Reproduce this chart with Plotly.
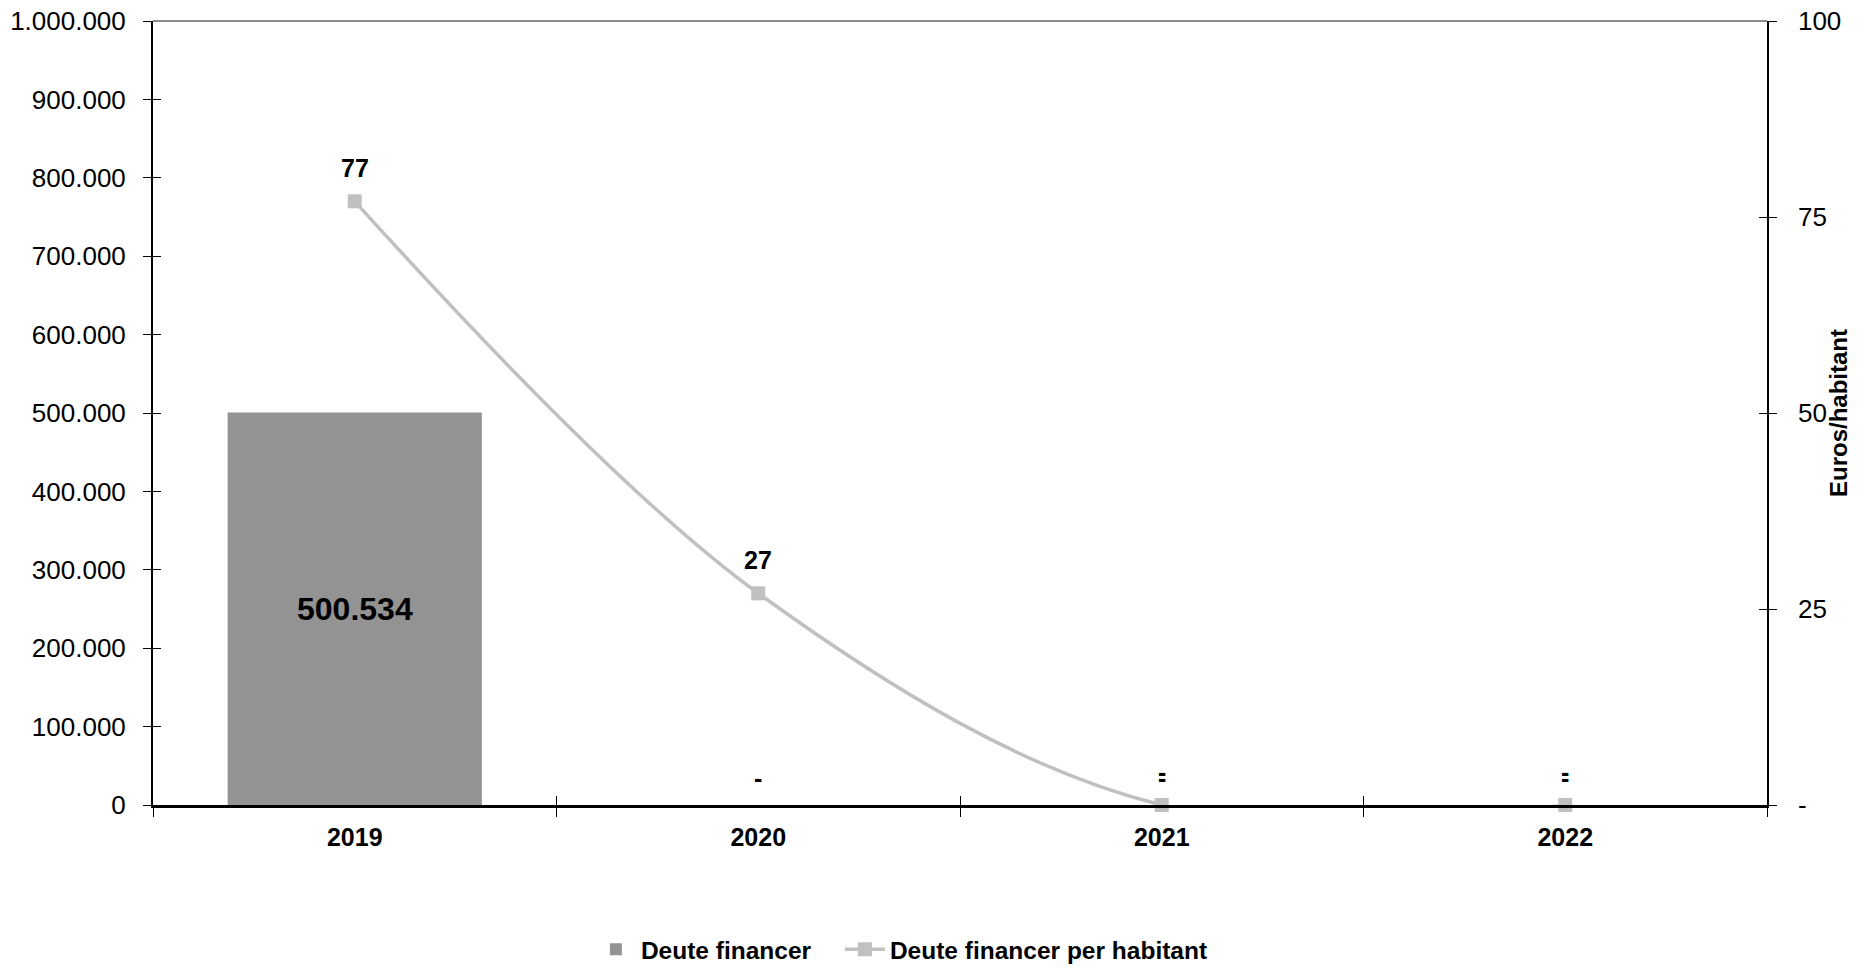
import plotly.graph_objects as go

years = ["2019", "2020", "2021", "2022"]
deute_financer = [500534, 0, 0, 0]
deute_per_habitant = [77, 27, 0, 0]
right_tick_vals = [0, 25, 50, 75, 100]
right_tick_text = ["-", "25", "50", "75", "100"]
category_boundaries = [-0.5, 0.5, 1.5, 2.5, 3.5]

FONT = "Liberation Sans, Arial, sans-serif"
BAR_COLOR = "#939393"
LINE_COLOR = "#c0c0c0"


def fmt_eu(v):
    return f"{v:,}".replace(",", ".")


fig = go.Figure()
fig.add_trace(go.Bar(
    x=years, y=deute_financer, name="Deute financer",
    marker=dict(color=BAR_COLOR, line=dict(width=0)), width=0.63,
    legendwidth=194,
))
fig.add_trace(go.Scatter(
    x=years, y=deute_per_habitant, name="Deute financer per habitant", yaxis="y2",
    mode="lines+markers", line=dict(color=LINE_COLOR, width=3.5, shape="spline", smoothing=1),
    marker=dict(symbol="square", size=14, color=LINE_COLOR),
    cliponaxis=False,
))
# invisible helper traces so the inside-tick overlay axes are drawn
fig.add_trace(go.Scatter(x=[None], y=[None], xaxis="x2", yaxis="y3",
                         showlegend=False, hoverinfo="skip"))
fig.add_trace(go.Scatter(x=[None], y=[None], xaxis="x2", yaxis="y4",
                         showlegend=False, hoverinfo="skip"))

annotations = []
# category index positions (numeric-looking category strings would be misread)
for i, v in enumerate(deute_financer):
    annotations.append(dict(
        x=i, y=v / 2, xref="x", yref="y", text="-" if v == 0 else fmt_eu(v),
        showarrow=False, yshift=27 if v == 0 else 0,
        font=dict(family=FONT, size=32 if v else 25, color="black", weight="bold"),
    ))
for i, v in enumerate(deute_per_habitant):
    annotations.append(dict(
        x=i, y=v, xref="x", yref="y2", text="-" if v == 0 else str(v),
        showarrow=False, yshift=33,
        font=dict(family=FONT, size=25, color="black", weight="bold"),
    ))
annotations.append(dict(
    text="Euros/habitant", xref="paper", yref="paper", x=1.044, y=0.5,
    textangle=-90, showarrow=False, xanchor="center", yanchor="middle",
    font=dict(family=FONT, size=24, color="black", weight="bold"),
))

tickfont = dict(family=FONT, size=26, color="black")
noax = dict(showgrid=False, zeroline=False, automargin=False)
# the page body adds an 8px offset, so the figure is 8px smaller and margins shifted
fig.update_layout(
    width=1861, height=960,
    margin=dict(l=145, r=102, t=13, b=163, autoexpand=False),
    paper_bgcolor="white", plot_bgcolor="white",
    separators=",.",
    font=dict(family=FONT, color="black"),
    showlegend=True,
    legend=dict(orientation="h", x=0.464, xanchor="center", y=-0.184, yanchor="middle",
                font=dict(family=FONT, size=24.5, color="black", weight="bold"),
                itemwidth=40, tracegroupgap=0),
    xaxis=dict(type="category", categoryorder="array", categoryarray=years,
               range=[-0.5, 3.5], tickson="boundaries", ticks="outside", ticklen=9,
               tickcolor="black", showline=True, linecolor="black", linewidth=2.5,
               ticklabelstandoff=8,
               tickfont=dict(family=FONT, size=25, color="black", weight="bold"), **noax),
    xaxis2=dict(type="linear", overlaying="x", anchor="y", range=[-0.5, 3.5],
                tickvals=category_boundaries, ticks="inside", ticklen=9, tickcolor="black",
                showticklabels=False, showline=False, side="bottom", **noax),
    yaxis=dict(range=[0, 1000000], dtick=100000, tickformat=",d", ticks="outside",
               ticklen=8, tickcolor="black", showline=True, linecolor="black", linewidth=2,
               ticklabelstandoff=12, ticklabeloverflow="allow", tickfont=tickfont, **noax),
    yaxis3=dict(range=[0, 1000000], dtick=100000, overlaying="y", anchor="x2", side="left",
                ticks="inside", ticklen=8, tickcolor="black", showticklabels=False,
                showline=False, **noax),
    yaxis2=dict(range=[0, 100], overlaying="y", side="right", anchor="x",
                tickvals=right_tick_vals, ticktext=right_tick_text, ticks="outside",
                ticklen=8, tickcolor="black", showline=True, linecolor="black",
                linewidth=1.5, ticklabelstandoff=16, ticklabeloverflow="allow",
                tickfont=tickfont, **noax),
    yaxis4=dict(range=[0, 100], overlaying="y", side="right", anchor="x2",
                tickvals=right_tick_vals, ticks="inside", ticklen=8, tickcolor="black",
                showticklabels=False, showline=False, **noax),
    annotations=annotations,
    shapes=[dict(type="line", xref="paper", yref="paper", x0=0, x1=1, y0=1, y1=1,
                 line=dict(color="#8c8c8c", width=2))],
)

fig.write_html("out.html")
